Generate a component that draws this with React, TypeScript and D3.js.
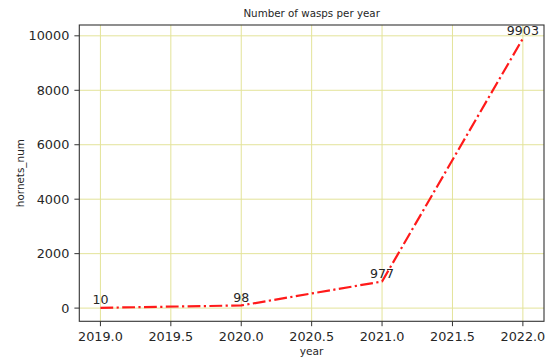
import React from "react";
import * as d3 from "d3";

const years = [2019, 2020, 2021, 2022];
const hornets = [10, 98, 977, 9903];
const xTicks = [2019.0, 2019.5, 2020.0, 2020.5, 2021.0, 2021.5, 2022.0];
const yTicks = [0, 2000, 4000, 6000, 8000, 10000];
const title = "Number of wasps per year";
const xLabel = "year";
const yLabel = "hornets_num";

const W = 547;
const H = 358;
const left = 79.3;
const right = 544;
const top = 25;
const bottom = 321.3;

export default function App() {
  const xMin = d3.min(years)!;
  const xMax = d3.max(years)!;
  const xPad = (xMax - xMin) * 0.05;
  const yMin = d3.min(hornets)!;
  const yMax = d3.max(hornets)!;
  const yPad = (yMax - yMin) * 0.05;
  const x = d3.scaleLinear().domain([xMin - xPad, xMax + xPad]).range([left, right]);
  const y = d3.scaleLinear().domain([yMin - yPad, yMax + yPad]).range([bottom, top]);
  const line = d3
    .line<number>()
    .x((_, i) => x(years[i]))
    .y((d) => y(d));
  const font = "DejaVu Sans, sans-serif";
  const gridColor = "#e3e399";
  const textColor = "#262626";
  return (
    <svg
      width={W}
      height={H}
      style={{ position: "absolute", left: 0, top: 0, background: "#fff" }}
      fontFamily={font}
    >
      <rect x={0} y={0} width={W} height={H} fill="#fff" />
      {xTicks.map((t) => (
        <line key={"gx" + t} x1={x(t)} x2={x(t)} y1={top} y2={bottom} stroke={gridColor} strokeWidth={1} />
      ))}
      {yTicks.map((t) => (
        <line key={"gy" + t} x1={left} x2={right} y1={y(t)} y2={y(t)} stroke={gridColor} strokeWidth={1} />
      ))}
      <path
        d={line(hornets) || ""}
        fill="none"
        stroke="#ff1a1a"
        strokeWidth={2.2}
        strokeDasharray="12.8 3.4 2.2 3.4"
        strokeLinejoin="round"
      />
      {hornets.map((v, i) => (
        <text
          key={"a" + i}
          x={x(years[i])}
          y={y(v) - 3.5}
          textAnchor="middle"
          fontSize={12.6}
          fill={textColor}
        >
          {String(v)}
        </text>
      ))}
      <rect
        x={left}
        y={top}
        width={right - left}
        height={bottom - top}
        fill="none"
        stroke="#333"
        strokeWidth={1.1}
      />
      {xTicks.map((t) => (
        <g key={"xt" + t}>
          <line x1={x(t)} x2={x(t)} y1={bottom} y2={bottom + 4.9} stroke="#333" strokeWidth={1} />
          <text x={x(t)} y={340.5} textAnchor="middle" fontSize={12.8} fill={textColor}>
            {t.toFixed(1)}
          </text>
        </g>
      ))}
      {yTicks.map((t) => (
        <g key={"yt" + t}>
          <line x1={left - 4.9} x2={left} y1={y(t)} y2={y(t)} stroke="#333" strokeWidth={1} />
          <text
            x={left - 10}
            y={y(t)}
            dy="0.36em"
            textAnchor="end"
            fontSize={12.8}
            fill={textColor}
          >
            {String(t)}
          </text>
        </g>
      ))}
      <text x={(left + right) / 2} y={17} textAnchor="middle" fontSize={10.3} fill={textColor}>
        {title}
      </text>
      <text x={(left + right) / 2} y={355} textAnchor="middle" fontSize={10.6} fill={textColor}>
        {xLabel}
      </text>
      <text
        transform={`translate(23.5, ${(top + bottom) / 2}) rotate(-90)`}
        textAnchor="middle"
        fontSize={10.4}
        fill={textColor}
      >
        {yLabel}
      </text>
    </svg>
  );
}
